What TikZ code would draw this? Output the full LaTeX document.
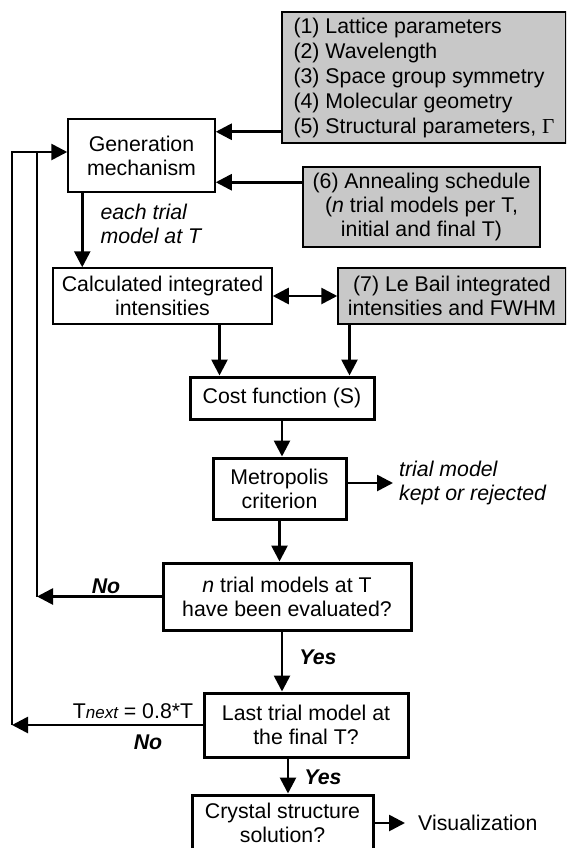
\documentclass[tikz,border=0pt]{standalone}
\usepackage{fontspec}
\setmainfont{Liberation Sans}
\newfontfamily\greekserif{Liberation Serif}
\usetikzlibrary{arrows.meta}
\definecolor{boxgrey}{RGB}{200,200,200}

\begin{document}
\begin{tikzpicture}[x=1pt,y=-1pt,
  every node/.style={font=\fontsize{21.3}{24}\selectfont},
  box/.style={draw, line width=1.5pt, fill=white, align=center, inner sep=0pt},
  greybox/.style={box, fill=boxgrey},
  boldbox/.style={box, line width=3pt},
  arr/.style={line width=2.7pt, -{Triangle[length=16pt,width=16pt]}},
  darr/.style={line width=2.7pt, {Triangle[length=16pt,width=16pt]}-{Triangle[length=16pt,width=16pt]}},
  note/.style={font=\fontsize{21.3}{24}\selectfont\itshape},
  answer/.style={font=\fontsize{21.3}{24}\selectfont\bfseries\itshape}]
  \clip (0,0) rectangle (566,848);

  % input boxes
  \node[greybox, align=left, minimum width=284pt, minimum height=131pt,
    font=\fontsize{21.3}{25}\selectfont] (par) at (424,77.5)
    {(1) Lattice parameters\\(2) Wavelength\\(3) Space group symmetry\\(4) Molecular geometry\\(5) Structural parameters, {\greekserif Γ}};
  \node[greybox, minimum width=237pt, minimum height=80pt] (ann) at (421.5,207)
    {(6) Annealing schedule\\(\textit{n} trial models per T,\\initial and final T)};
  \node[greybox, minimum width=228pt, minimum height=56pt] (lebail) at (452,296)
    {(7) Le Bail integrated\\intensities and FWHM};

  % main flow
  \node[box, minimum width=147pt, minimum height=73pt] (gen) at (141.5,155.5) {Generation\\mechanism};
  \node[box, minimum width=219pt, minimum height=56pt] (calc) at (162.5,296) {Calculated integrated\\intensities};
  \node[boldbox, minimum width=184pt, minimum height=42pt] (cost) at (282,398) {Cost function (S)};
  \node[boldbox, minimum width=133pt, minimum height=61pt] (metro) at (279.5,488.5) {Metropolis\\criterion};
  \node[boldbox, minimum width=248pt, minimum height=67pt] (ntrial) at (287,596.5) {\textit{n} trial models at T\\have been evaluated?};
  \node[boldbox, minimum width=204pt, minimum height=64pt] (last) at (306,725) {Last trial model at\\the final T?};
  \node[boldbox, minimum width=181pt, minimum height=56pt] (cryst) at (282.5,823) {Crystal structure\\solution?};

  % labels
  \node[note, anchor=west, align=left] (each) at (97,224) {each trial\\model at T};
  \node[note, anchor=west, align=left, inner xsep=6pt] (kept) at (393,483) {trial model\\kept or rejected};
  \node[anchor=west, inner xsep=13pt] (vis) at (405,823) {Visualization};
  \node[answer] (no1) at (106,586) {No};
  \node[answer] (yes1) at (318,657) {Yes};
  \node (tnext) at (133,711) {T{\fontsize{17}{17}\selectfont\itshape next} = 0.8*T};
  \node[answer] (no2) at (148,742) {No};
  \node[answer] (yes2) at (323,777) {Yes};

  \coordinate (in1) at (37,152);
  \coordinate (out1) at (12,152);
  \coordinate (c1) at ([xshift=31pt]cost.north west);
  \coordinate (c2) at ([xshift=-26pt]cost.north east);

  \draw[arr] ([yshift=12pt]par.south west) -- ([yshift=12pt]par.south west -| gen.east);
  \draw[arr] ([yshift=-16pt]ann.north west) -- ([yshift=-16pt]ann.north west -| gen.east);
  \draw[arr] ([xshift=15pt]gen.south west) -- ([xshift=15pt]gen.south west |- calc.north);
  \draw[darr] (calc) -- (lebail);
  \draw[arr] (calc.south -| c1) -- (c1);
  \draw[arr] (lebail.south -| c2) -- (c2);
  \draw[arr] (cost.south) -- (cost.south |- metro.north);
  \draw[arr] (metro.east |- kept.west) -- (kept.west);
  \draw[arr] (metro.south) -- (metro.south |- ntrial.north);
  \draw[arr] ([xshift=-5pt]ntrial.south) -- ([xshift=-5pt]ntrial.south |- last.north);
  \draw[arr] ([xshift=-18pt]last.south) -- ([xshift=-18pt]last.south |- cryst.north);
  \draw[arr] (cryst.east |- vis.west) -- (vis.west);

  % loops back
  \draw[arr] (ntrial.west) -- (ntrial.west -| in1);
  \draw[line width=2.7pt] (ntrial.west -| in1) -- (in1);
  \draw[arr] (last.west) -- (last.west -| out1);
  \draw[arr] (last.west -| out1) -- (out1) -- (out1 -| gen.west);

\end{tikzpicture}
\end{document}
